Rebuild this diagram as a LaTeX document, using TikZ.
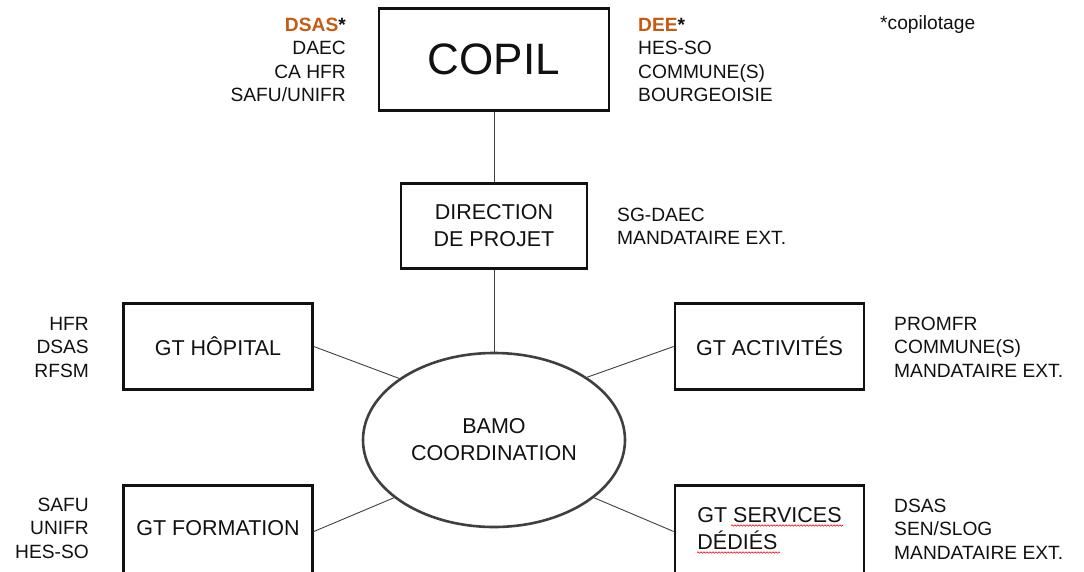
\documentclass[tikz,border=0pt]{standalone}
\usepackage{fontspec}
\setmainfont{Liberation Sans}
\usetikzlibrary{shapes.geometric, decorations.pathmorphing}
\definecolor{Rust}{HTML}{C55A11}
\definecolor{Ink}{HTML}{111111}
\definecolor{Rim}{HTML}{3F3F3F}
\tikzset{
  box/.style={draw=Ink, line width=2.6pt, minimum width=189pt, minimum height=86pt, inner sep=0pt, align=center, text=Ink, font=\fontsize{21.5}{27}\selectfont},
  lowbox/.style={box, minimum height=92pt, text depth=6.5pt},
  hub/.style={ellipse, draw=Rim, line width=2.6pt, minimum width=262pt, minimum height=174pt, inner sep=0pt, align=center, text=Ink, font=\fontsize{21.5}{27}\selectfont},
  side/.style={text=Ink, inner sep=0pt, font=\fontsize{19.2}{23.5}\selectfont},
  link/.style={draw=Rim, line width=0.9pt},
  spell/.style={draw=red, line width=0.6pt, decorate, decoration={snake, amplitude=0.7pt, segment length=3pt}},
}

\begin{document}
\begin{tikzpicture}[x=1pt, y=-1pt]
  \useasboundingbox (0,0) rectangle (1084,571);

  % boxes
  \node[box, minimum width=230pt, minimum height=102pt, font=\fontsize{44}{50}\selectfont] (copil) at (494,59.5) {COPIL};
  \node[box, minimum width=186pt, minimum height=85pt] (dir) at (494,226) {DIRECTION\\DE PROJET};
  \node[hub] (bamo) at (494,440) {BAMO\\COORDINATION};
  \node[box] (hop) at (218,346.5) {GT HÔPITAL};
  \node[box] (act) at (769.5,346.5) {GT ACTIVITÉS};
  \node[lowbox] (form) at (218,531.5) {GT FORMATION};
  \node[lowbox, align=left] (serv) at (769.5,531.5) {GT SERVICES\\DÉDIÉS};

  % connectors
  \draw[link] (copil) -- (dir);
  \draw[link] (dir) -- (bamo);
  \draw[link] (hop.east) -- (bamo.147);
  \draw[link] (act.west) -- (bamo.34);
  \draw[link] (form.east) -- (bamo.210);
  \draw[link] (serv.west) -- (bamo.330);

  % members
  \node[side, anchor=east, align=right] (copilL) at (346,60) {\textcolor{Rust}{\textbf{DSAS}}\textbf{*}\\DAEC\\CA HFR\\SAFU/UNIFR};
  \node[side, anchor=west, align=left] (copilR) at (638,60) {\textcolor{Rust}{\textbf{DEE}}\textbf{*}\\HES-SO\\COMMUNE(S)\\BOURGEOISIE};
  \node[side, anchor=west] (note) at (880,25) {*copilotage};
  \node[side, anchor=west, align=left] (dirR) at (617,226.5) {SG-DAEC\\MANDATAIRE EXT.};
  \node[side, anchor=east, align=right] (hopL) at (89,347) {HFR\\DSAS\\RFSM};
  \node[side, anchor=west, align=left] (actR) at (894,347) {PROMFR\\COMMUNE(S)\\MANDATAIRE EXT.};
  \node[side, anchor=east, align=right] (formL) at (89,528) {SAFU\\UNIFR\\HES-SO};
  \node[side, anchor=west, align=left] (servR) at (894,529) {DSAS\\SEN/SLOG\\MANDATAIRE EXT.};

  % spell-check marks
  \draw[spell] (731,525.5) -- (843,525.5);
  \draw[spell] (697,552.5) -- (780,552.5);
\end{tikzpicture}
\end{document}
